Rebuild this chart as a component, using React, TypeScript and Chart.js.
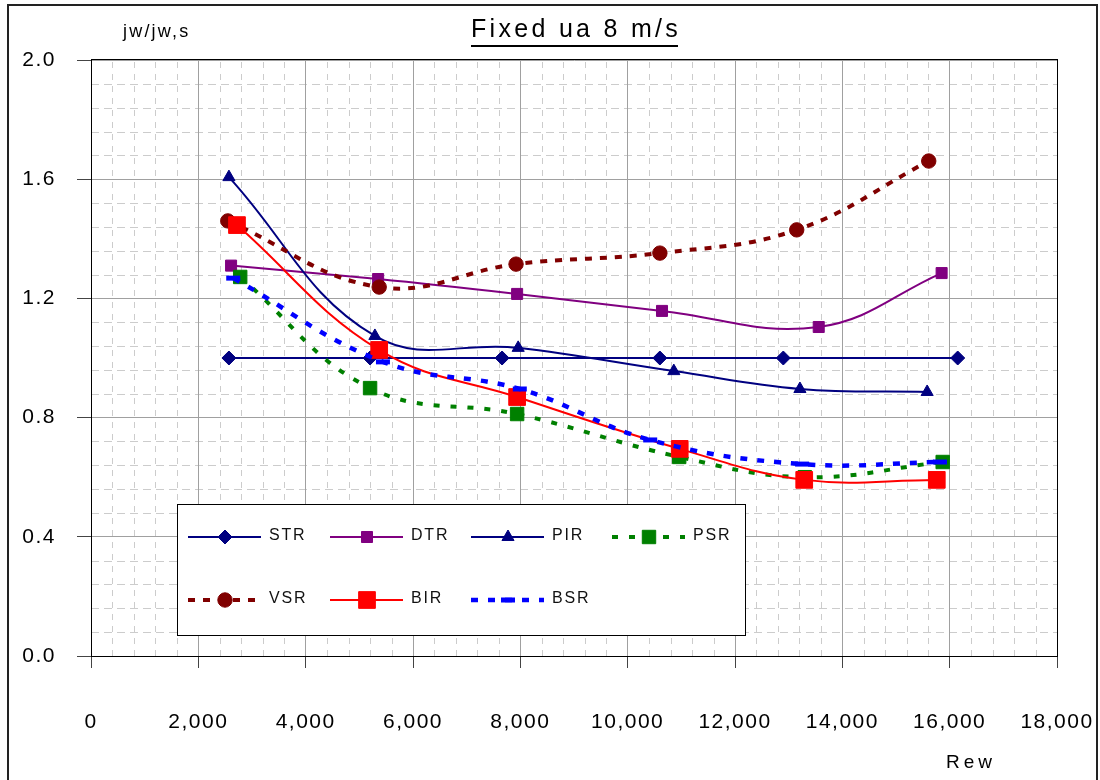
import React, { useEffect, useRef } from 'react';
import { Chart, registerables } from 'chart.js';
import { drawPoint } from 'chart.js/helpers';

Chart.register(...registerables);

// ---- data ----
const STR_X = [2570, 5200, 7660, 10600, 12900, 16150];
const STR_Y = [1.0, 1.0, 1.0, 1.0, 1.0, 1.0];

const DTR_X = [2610, 5350, 7940, 10640, 13560, 15850];
const DTR_Y = [1.31, 1.265, 1.215, 1.158, 1.104, 1.285];

const PIR_X = [2570, 5290, 7960, 10860, 13210, 15580];
const PIR_Y = [1.607, 1.074, 1.034, 0.956, 0.896, 0.886];

const PSR_X = [2780, 5200, 7940, 10960, 13300, 15870];
const PSR_Y = [1.272, 0.899, 0.812, 0.668, 0.6, 0.651];

const VSR_X = [2550, 5370, 7920, 10600, 13150, 15610];
const VSR_Y = [1.46, 1.238, 1.315, 1.352, 1.43, 1.661];

const BIR_X = [2720, 5370, 7940, 10970, 13290, 15760];
const BIR_Y = [1.446, 1.027, 0.869, 0.695, 0.591, 0.591];

const BSR_X = [2650, 5440, 7990, 10420, 13250, 15820];
const BSR_Y = [1.268, 0.987, 0.896, 0.725, 0.644, 0.651];

const SERIES_LABELS = ['STR', 'DTR', 'PIR', 'PSR', 'VSR', 'BIR', 'BSR'];

const X_MIN = 0;
const X_MAX = 18000;
const X_STEP = 2000;
const X_MINOR = 400;
const Y_MIN = 0;
const Y_MAX = 2;
const Y_STEP = 0.4;
const Y_MINOR = 0.08;

const TITLE = 'Fixed ua 8 m/s';
const Y_TITLE = 'jw/jw,s';
const X_TITLE = 'Rew';

// ---- styles ----
const FONT = '"Liberation Sans", Arial, sans-serif';

type Style = {
  color: string;
  width: number;
  dash: number[];
  point: string;
  radius: number;
  pointBorder: number;
};

const STYLES: Style[] = [
  { color: '#000080', width: 2, dash: [], point: 'rectRot', radius: 7, pointBorder: 1 },
  { color: '#800080', width: 2, dash: [], point: 'rect', radius: 7.8, pointBorder: 1 },
  { color: '#000080', width: 2, dash: [], point: 'triangle', radius: 7, pointBorder: 1 },
  { color: '#008000', width: 4, dash: [6, 11], point: 'rect', radius: 9.5, pointBorder: 1 },
  { color: '#800000', width: 4, dash: [7, 8], point: 'circle', radius: 7.2, pointBorder: 1 },
  { color: '#FF0000', width: 2, dash: [], point: 'rect', radius: 11.8, pointBorder: 1 },
  { color: '#0000FF', width: 4.5, dash: [7, 10], point: 'line', radius: 7, pointBorder: 5 },
];

const SERIES_X = [STR_X, DTR_X, PIR_X, PSR_X, VSR_X, BIR_X, BSR_X];
const SERIES_Y = [STR_Y, DTR_Y, PIR_Y, PSR_Y, VSR_Y, BIR_Y, BSR_Y];

const decorPlugin = {
  id: 'decor',
  beforeDraw(chart: any) {
    const { ctx, chartArea: a, scales } = chart;
    const xs = scales.x;
    const ys = scales.y;
    ctx.save();
    ctx.fillStyle = '#ffffff';
    ctx.fillRect(0, 0, chart.width, chart.height);
    ctx.strokeStyle = '#cccccc';
    ctx.lineWidth = 1;
    // minor vertical
    ctx.setLineDash([6, 6]);
    const nx = Math.round((X_MAX - X_MIN) / X_MINOR);
    for (let k = 1; k < nx; k++) {
      if (k % Math.round(X_STEP / X_MINOR) === 0) continue;
      const px = Math.round(xs.getPixelForValue(X_MIN + k * X_MINOR)) + 0.5;
      ctx.beginPath();
      ctx.moveTo(px, a.bottom);
      ctx.lineTo(px, a.top);
      ctx.stroke();
    }
    // minor horizontal
    ctx.setLineDash([8, 5]);
    const ny = Math.round((Y_MAX - Y_MIN) / Y_MINOR);
    for (let k = 1; k < ny; k++) {
      if (k % Math.round(Y_STEP / Y_MINOR) === 0) continue;
      const py = Math.round(ys.getPixelForValue(Y_MIN + k * Y_MINOR)) + 0.5;
      ctx.beginPath();
      ctx.moveTo(a.left, py);
      ctx.lineTo(a.right, py);
      ctx.stroke();
    }
    ctx.restore();
    (ctx as any).letterSpacing = '1.5px';
  },
  afterDraw(chart: any) {
    const { ctx, chartArea: a } = chart;
    ctx.save();
    (ctx as any).letterSpacing = '0px';
    // plot frame
    ctx.setLineDash([]);
    ctx.strokeStyle = '#000';
    ctx.lineWidth = 1;
    ctx.strokeRect(Math.round(a.left) + 0.5, Math.round(a.top) - 0.5, Math.round(a.right - a.left), Math.round(a.bottom - a.top) + 1);

    // outer frame
    ctx.lineWidth = 2;
    ctx.strokeStyle = '#222';
    ctx.strokeRect(8, 5, 1089, 800);

    // title
    ctx.fillStyle = '#000';
    ctx.textBaseline = 'alphabetic';
    ctx.textAlign = 'left';
    ctx.font = `25px ${FONT}`;
    (ctx as any).letterSpacing = '3.3px';
    ctx.fillText(TITLE, 471, 37);
    ctx.fillRect(471, 45, 207, 2);

    ctx.font = `18px ${FONT}`;
    (ctx as any).letterSpacing = '2.2px';
    ctx.fillText(Y_TITLE, 123, 37);

    ctx.font = `19px ${FONT}`;
    (ctx as any).letterSpacing = '4px';
    ctx.fillText(X_TITLE, 946, 768);

    // legend
    const L = 177, T = 504, R = 745, B = 635;
    ctx.fillStyle = '#fff';
    ctx.fillRect(L, T, R - L, B - T);
    ctx.strokeStyle = '#000';
    ctx.lineWidth = 1;
    ctx.strokeRect(L + 0.5, T + 0.5, R - L, B - T);
    const cols = [188, 330, 471, 612];
    const rows = [537, 600];
    ctx.font = `16px ${FONT}`;
    (ctx as any).letterSpacing = '1.8px';
    SERIES_LABELS.forEach((label, i) => {
      const st = STYLES[i];
      const x0 = cols[i % 4];
      const y = rows[Math.floor(i / 4)];
      ctx.save();
      ctx.strokeStyle = st.color;
      ctx.lineWidth = st.width;
      ctx.setLineDash(st.dash);
      ctx.beginPath();
      ctx.moveTo(x0, y);
      ctx.lineTo(x0 + 73, y);
      ctx.stroke();
      ctx.setLineDash([]);
      ctx.fillStyle = st.color;
      ctx.strokeStyle = st.color;
      ctx.lineWidth = st.pointBorder;
      drawPoint(ctx, { pointStyle: st.point as any, radius: st.radius, rotation: 0, borderWidth: st.pointBorder } as any, x0 + 37, y);
      ctx.restore();
      ctx.fillStyle = '#111';
      ctx.fillText(label, x0 + 81, y + 3);
    });
    ctx.restore();
  },
};

export default function App() {
  const ref = useRef<HTMLCanvasElement>(null);
  useEffect(() => {
    const canvas = ref.current;
    if (!canvas) return;
    const datasets = SERIES_LABELS.map((label, i) => {
      const st = STYLES[i];
      return {
        label,
        data: SERIES_X[i].map((x, j) => ({ x, y: SERIES_Y[i][j] })),
        borderColor: st.color,
        backgroundColor: st.color,
        borderWidth: st.width,
        borderDash: st.dash,
        pointStyle: st.point,
        pointRadius: st.radius,
        pointBackgroundColor: st.color,
        pointBorderColor: st.color,
        pointBorderWidth: st.pointBorder,
        tension: 0.4,
        fill: false,
        order: SERIES_LABELS.length - i,
      };
    });
    const chart = new Chart(canvas, {
      type: 'line',
      data: { datasets } as any,
      options: {
        responsive: false,
        animation: false,
        devicePixelRatio: 1,
        events: [],
        layout: { padding: { top: 60, right: 43, left: 0, bottom: 0 } },
        plugins: {
          legend: { display: false },
          title: { display: false },
          tooltip: { enabled: false },
        },
        scales: {
          x: {
            type: 'linear',
            position: 'bottom',
            min: X_MIN,
            max: X_MAX,
            afterFit: (s: any) => {
              s.height = 124;
              s.paddingLeft = 0;
              s.paddingRight = 0;
            },
            ticks: {
              stepSize: X_STEP,
              autoSkip: false,
              maxRotation: 0,
              minRotation: 0,
              padding: 42,
              color: '#000',
              font: { family: FONT, size: 21 },
              callback: (v: any) => Number(v).toLocaleString('en-US'),
            },
            grid: { color: '#a0a0a0', lineWidth: 1, tickLength: 12, tickColor: '#444', drawTicks: true },
            border: { display: true, color: '#000', width: 1 },
          },
          y: {
            type: 'linear',
            min: Y_MIN,
            max: Y_MAX,
            afterFit: (s: any) => {
              s.width = 91;
              s.paddingTop = 0;
              s.paddingBottom = 0;
            },
            ticks: {
              stepSize: Y_STEP,
              padding: 21,
              color: '#000',
              font: { family: FONT, size: 21 },
              callback: (v: any) => Number(v).toFixed(1),
            },
            grid: { color: '#a0a0a0', lineWidth: 1, tickLength: 14, tickColor: '#444', drawTicks: true },
            border: { display: true, color: '#000', width: 1 },
          },
        },
      } as any,
      plugins: [decorPlugin],
    });
    return () => chart.destroy();
  }, []);
  return (
    <div style={{ position: 'absolute', left: 0, top: 0, width: 1100, height: 780, background: '#fff' }}>
      <canvas ref={ref} width={1100} height={780} style={{ display: 'block', width: 1100, height: 780 }} />
    </div>
  );
}
